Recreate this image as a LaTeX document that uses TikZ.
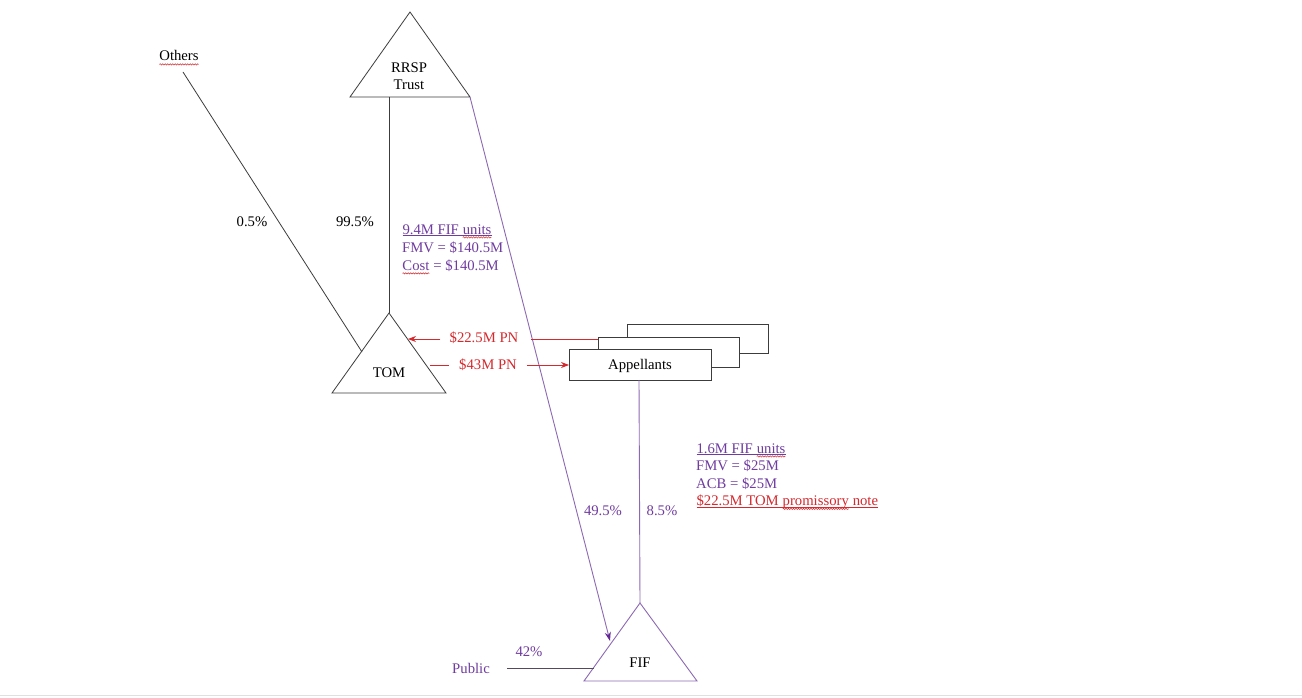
\documentclass[tikz,border=0pt]{standalone}
\usepackage{fontspec}
\setmainfont{Liberation Serif}
\usetikzlibrary{decorations.pathmorphing,arrows.meta}
\definecolor{ptext}{RGB}{112,60,160}
\definecolor{pline}{RGB}{140,105,180}
\definecolor{parrow}{RGB}{100,40,150}
\definecolor{rtext}{RGB}{215,40,45}
\definecolor{kline}{RGB}{60,60,60}
\newcommand{\wv}[1]{\tikz[baseline=(wv.base)]{\node[inner sep=0pt,outer sep=0pt](wv){#1};\draw[rtext,line width=0.5pt,decorate,decoration={snake,amplitude=0.7pt,segment length=2.5pt}] ([yshift=-3.4pt]wv.base west)--([yshift=-3.4pt]wv.base east);}}
\newcommand{\ulc}[2]{\tikz[baseline=(ul.base)]{\node[inner sep=0pt,outer sep=0pt,text=#1](ul){\color{#1}#2};\draw[#1,line width=0.7pt] ([yshift=-1.8pt]ul.base west)--([yshift=-1.8pt]ul.base east);}}
\tikzset{
  txt/.style={font=\fontsize{14.7}{17.5}\selectfont,inner sep=0pt},
  ln/.style={draw=kline,line width=0.8pt},
  tri/.style={draw=kline,line width=0.8pt,fill=white},
  box/.style={draw=kline,line width=0.9pt,fill=white},
  ptri/.style={draw=pline,line width=0.9pt,fill=white},
}
\begin{document}
\begin{tikzpicture}[x=1pt,y=-1pt]
\useasboundingbox (0,0) rectangle (1302,698);
\fill[white] (0,0) rectangle (1302,698);
\draw[black!12,line width=0.8pt] (0,695) -- (1302,695);

% RRSP Trust
\coordinate (rA) at (410,12);
\coordinate (rL) at (350,97);
\coordinate (rR) at (470,97);
\coordinate (rB) at (389,97);
\draw[tri] (rA)--(rL)--(rR)--cycle;
\node[txt,align=center] (rrsp) at (409,76) {RRSP\\Trust};

% TOM
\coordinate (tA) at (389,313);
\coordinate (tL) at (332,393);
\coordinate (tR) at (446,393);
\coordinate (tOth) at (362,352);
\coordinate (tIn) at (408,339);
\coordinate (tOut) at (430,365);
\draw[tri] (tA)--(tL)--(tR)--cycle;
\node[txt] (tom) at (389,373) {TOM};

% Others
\node[txt,anchor=base] (oth) at (179,61) {\wv{Others}};
\coordinate (othE) at (183,72);
\draw[ln] (othE) -- (tOth);
\draw[ln] (rB) -- (tA);
\node[txt] (p05) at (252,222) {0.5\%};
\node[txt] (p995) at (355,222) {99.5\%};

% Appellants boxes
\draw[box] (627,324) rectangle (768,353);
\draw[box] (598,337) rectangle (739,367);
\node[box,minimum width=142pt,minimum height=31pt,inner sep=0pt,anchor=north west] (app) at (569,349) {};
\node[txt] (appt) at (640,366) {Appellants};
\coordinate (midL) at (598,339);
\coordinate (appB) at (639,380);
\coordinate (appL) at (569,365);

% FIF
\coordinate (fA) at (640,603);
\coordinate (fL) at (584,681);
\coordinate (fR) at (697,681);
\coordinate (fIn) at (610,641);
\coordinate (fPub) at (594,668);
\draw[ptri] (fA)--(fL)--(fR)--cycle;
\node[txt] (fif) at (640,663) {FIF};

% purple connectors
\draw[draw=pline,line width=0.9pt,-{Stealth[length=9pt,width=6pt,color=parrow,fill=parrow]}] (rR) -- (fIn);
\draw[draw=pline,line width=0.9pt] (appB) -- (fA);
\node[txt,text=ptext,anchor=base east] (pub) at (490,673) {Public};
\coordinate (pubE) at (507,668);
\draw[draw=kline!70!pline,line width=0.8pt] (pubE) -- (fPub);
\node[txt,text=ptext] (p42) at (529,652) {42\%};
\node[txt,text=ptext] (p495) at (603,511) {49.5\%};
\node[txt,text=ptext] (p85) at (662,511) {8.5\%};

% red PN arrows
\node[txt,text=rtext] (pn1) at (484,338) {\$22.5M PN};
\node[txt,text=rtext] (pn2) at (488,365) {\$43M PN};
\draw[rtext,line width=0.8pt] (midL) -- ([xshift=12pt]pn1.east |- midL);
\draw[rtext,line width=0.8pt,-{Stealth[length=8pt,width=6pt]}] ([xshift=-9pt]pn1.west |- tIn) -- (tIn);
\draw[rtext,line width=0.8pt] (tOut) -- ([xshift=-10pt]pn2.west |- tOut);
\draw[rtext,line width=0.8pt,-{Stealth[length=8pt,width=6pt]}] ([xshift=10pt]pn2.east |- appL) -- (appL);

% FIF units text 1
\node[txt,text=ptext,anchor=base west] (u1) at (402,234) {\ulc{ptext}{9.4M FIF \wv{units}}};
\node[txt,text=ptext,anchor=base west] (u2) at (402,252) {FMV = \$140.5M};
\node[txt,text=ptext,anchor=base west] (u3) at (402,270) {\wv{Cost}\ \color{ptext}= \$140.5M};

% FIF units text 2
\node[txt,text=ptext,anchor=base west] (v1) at (696,453) {\ulc{ptext}{1.6M FIF \wv{units}}};
\node[txt,text=ptext,anchor=base west] (v2) at (696,470.5) {FMV = \$25M};
\node[txt,text=ptext,anchor=base west] (v3) at (696,488) {ACB = \$25M};
\node[txt,text=rtext,anchor=base west] (v4) at (696,505.5) {\ulc{rtext}{\$22.5M TOM \wv{promissory}\ \color{rtext}note}};
\end{tikzpicture}
\end{document}
